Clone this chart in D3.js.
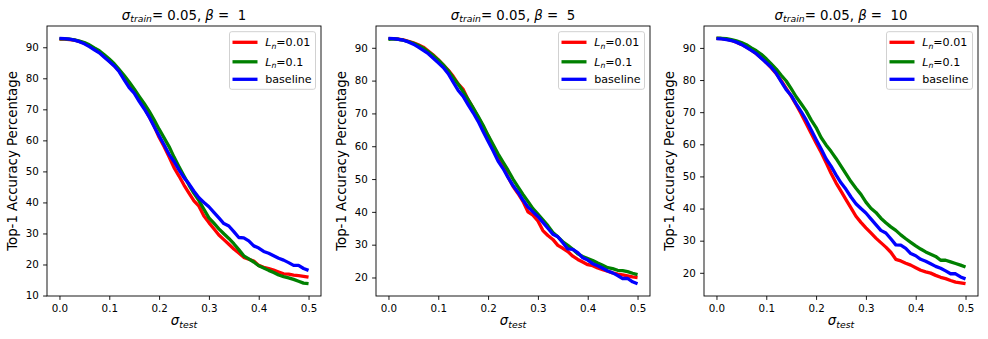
<!DOCTYPE html>
<html><head><meta charset="utf-8">
<script src="https://cdn.jsdelivr.net/npm/d3@7"></script>
<style>
body{margin:0;background:#fff;}
svg{display:block;font-family:"DejaVu Sans",sans-serif;}
text{white-space:pre;}
</style></head><body>
<svg id="c" width="988" height="339"></svg>
<script>
// ---------- data ----------
const sigmaTest = [0.00,0.01,0.02,0.03,0.04,0.05,0.06,0.07,0.08,0.09,
  0.10,0.11,0.12,0.13,0.14,0.15,0.16,0.17,0.18,0.19,
  0.20,0.21,0.22,0.23,0.24,0.25,0.26,0.27,0.28,0.29,
  0.30,0.31,0.32,0.33,0.34,0.35,0.36,0.37,0.38,0.39,
  0.40,0.41,0.42,0.43,0.44,0.45,0.46,0.47,0.48,0.49,0.50];

const betas = [1, 5, 10];
const sigmaTrain = "0.05";
const seriesNames = ["L_n=0.01", "L_n=0.1", "baseline"];
const seriesColors = ["#ff0000", "#008000", "#0000ff"];

const baseline = [92.9,92.8,92.6,92.3,91.8,91.1,90.2,89.2,88.2,86.8,
  85.4,84.0,82.1,79.5,77.0,75.2,72.6,70.2,67.6,64.5,
  61.5,58.6,55.5,53.2,50.5,48.0,46.0,43.6,41.5,40.0,
  38.6,36.8,35.0,33.2,32.4,30.6,28.7,28.6,27.6,26.0,
  25.3,24.2,23.6,22.8,22.0,21.4,20.6,19.7,19.7,18.7,18.1];

// beta = 1
const ln001Beta1 = [92.6,92.6,92.5,92.3,91.9,91.3,90.6,89.5,88.4,87.1,
  85.6,84.1,82.4,80.3,78.0,75.8,73.3,70.6,67.6,64.6,
  61.0,58.0,54.7,51.2,48.5,45.6,43.0,40.5,38.8,35.6,
  33.5,31.5,29.5,28.0,26.5,25.0,23.7,22.3,21.7,21.1,
  19.7,19.1,18.7,18.2,17.6,17.0,16.9,16.6,16.4,16.2,15.9];
const ln01Beta1 = [92.7,92.7,92.6,92.4,92.0,91.5,90.8,89.8,88.9,87.6,
  86.2,84.7,82.8,80.9,78.8,76.6,74.2,71.9,69.4,66.6,
  63.6,60.8,58.0,54.6,51.5,48.5,45.6,42.9,40.6,37.8,
  35.0,33.3,31.5,29.9,28.4,26.7,24.8,22.8,21.8,20.8,
  19.6,18.9,18.1,17.4,16.6,16.1,15.7,15.2,14.6,14.0,13.8];

// beta = 5
const ln001Beta5 = [92.8,92.8,92.6,92.4,92.0,91.5,90.9,90.2,89.0,87.8,
  86.4,84.8,83.2,81.3,79.0,77.3,74.2,71.6,68.8,66.0,
  63.2,59.6,57.0,54.2,50.6,47.8,45.6,43.2,40.0,39.0,
  37.2,34.3,32.8,31.6,29.8,28.9,27.9,26.5,25.5,24.7,
  23.9,23.6,22.9,22.4,21.9,21.4,21.0,20.8,20.5,20.2,20.0];
const ln01Beta5 = [92.6,92.7,92.6,92.3,91.9,91.4,90.7,89.9,88.8,87.6,
  86.3,84.8,83.0,80.9,78.9,76.6,74.2,71.7,69.1,66.4,
  63.3,60.5,57.7,55.2,52.7,50.0,47.6,45.3,43.2,41.0,
  39.3,37.6,35.8,33.7,32.4,30.9,29.8,28.6,27.2,26.4,
  25.8,25.2,24.4,23.7,23.0,22.7,22.2,22.1,21.8,21.3,20.9];

// beta = 10
const ln001Beta10 = [93.0,92.9,92.7,92.3,91.8,91.1,90.3,89.3,88.2,86.9,
  85.4,83.8,82.0,79.8,77.4,75.0,72.3,69.5,66.5,63.4,
  60.4,57.5,54.3,51.0,48.0,45.4,42.8,40.2,37.6,35.7,
  34.0,32.4,30.8,29.4,28.0,26.4,24.2,23.7,23.0,22.4,
  21.6,20.8,20.3,19.9,19.2,18.6,18.2,17.6,17.1,16.9,16.6];
const ln01Beta10 = [93.0,93.0,92.9,92.6,92.2,91.7,91.0,90.0,89.1,88.0,
  86.6,85.0,83.4,81.5,79.7,77.3,74.8,72.6,70.4,67.6,
  65.2,62.1,59.8,57.8,55.6,53.2,50.8,48.4,46.3,44.4,
  42.0,40.1,38.8,37.0,35.6,34.3,33.2,31.8,30.6,29.5,
  28.4,27.4,26.5,25.8,25.1,23.9,23.9,23.4,22.9,22.4,21.8];

const xTicks = [0.0,0.1,0.2,0.3,0.4,0.5];
const yTicksBeta1 = [10,20,30,40,50,60,70,80,90];
const yTicksOther = [20,30,40,50,60,70,80,90];
const yLabel = "Top-1 Accuracy Percentage";

// ---------- layout ----------
const panels = [
  {beta: betas[0], series: [ln001Beta1, ln01Beta1, baseline], yTicks: yTicksBeta1},
  {beta: betas[1], series: [ln001Beta5, ln01Beta5, baseline], yTicks: yTicksOther},
  {beta: betas[2], series: [ln001Beta10, ln01Beta10, baseline], yTicks: yTicksOther}
];
const lefts = [47, 376, 704];
const axW = 274, axTop = 26, axH = 270;
const svg = d3.select("#c");

function richLabel(sel, name) {
  if (name.startsWith("L_n")) {
    sel.append("tspan").attr("font-style", "italic").text("L");
    sel.append("tspan").attr("font-style", "italic").attr("font-size", "0.7em").attr("dy", 2.5).text("n");
    sel.append("tspan").attr("dy", -2.5).text(name.slice(3));
  } else {
    sel.text(name);
  }
}

panels.forEach((p, i) => {
  const x0 = lefts[i];
  const all = p.series.flat();
  const mn = d3.min(all), mx = d3.max(all), pad = (mx - mn) * 0.05;
  const x = d3.scaleLinear().domain([-0.025, 0.525]).range([x0, x0 + axW]);
  const y = d3.scaleLinear().domain([mn - pad, mx + pad]).range([axTop + axH, axTop]);
  const g = svg.append("g");

  const line = d3.line().x((d, j) => x(sigmaTest[j])).y(d => y(d));
  p.series.forEach((s, k) => {
    g.append("path").attr("d", line(s)).attr("fill", "none")
      .attr("stroke", seriesColors[k]).attr("stroke-width", 3.3)
      .attr("stroke-linejoin", "round");
  });

  // axes
  const xa = g.append("g").attr("transform", `translate(0,${axTop + axH})`)
    .call(d3.axisBottom(x).tickValues(xTicks).tickFormat(d3.format(".1f")).tickSize(3.9).tickPadding(5.1));
  const ya = g.append("g").attr("transform", `translate(${x0},0)`)
    .call(d3.axisLeft(y).tickValues(p.yTicks).tickFormat(d3.format("d")).tickSize(3.9).tickPadding(4.3));
  [xa, ya].forEach(a => {
    a.select(".domain").remove();
    a.selectAll("line").attr("stroke", "#000").attr("stroke-width", 0.9);
    a.selectAll("text").attr("fill", "#000").attr("font-size", 10.3).attr("font-family", "DejaVu Sans");
  });

  // frame
  g.append("rect").attr("x", x0).attr("y", axTop).attr("width", axW).attr("height", axH)
    .attr("fill", "none").attr("stroke", "#000").attr("stroke-width", 0.9);

  // title
  const t = g.append("text").attr("x", x0 + axW / 2).attr("y", 19.5)
    .attr("text-anchor", "middle").attr("font-size", 13.3).attr("fill", "#000");
  t.append("tspan").attr("font-style", "italic").text("σ");
  t.append("tspan").attr("font-style", "italic").attr("font-size", 9.3).attr("dy", 2.5).text("train");
  t.append("tspan").attr("dy", -2.5).text("= " + sigmaTrain + ", ");
  t.append("tspan").attr("font-style", "italic").text("β");
  t.append("tspan").text(" =  " + p.beta);

  // x label
  const xl = g.append("text").attr("x", x0 + axW / 2).attr("y", 325)
    .attr("text-anchor", "middle").attr("font-size", 13.3).attr("fill", "#000");
  xl.append("tspan").attr("font-style", "italic").text("σ");
  xl.append("tspan").attr("font-style", "italic").attr("font-size", 9.3).attr("dy", 2.5).text("test");

  // y label
  g.append("text").attr("transform", `translate(${x0 - 30},${axTop + axH / 2}) rotate(-90)`)
    .attr("text-anchor", "middle").attr("font-size", 13.3).attr("fill", "#000").text(yLabel);

  // legend
  const bw = 86, bh = 57.6;
  const bx = x0 + axW - 5.5 - bw, by = axTop + 5.7;
  const lg = g.append("g").attr("transform", `translate(${bx},${by})`);
  lg.append("rect").attr("width", bw).attr("height", bh).attr("rx", 2.2)
    .attr("fill", "#fff").attr("fill-opacity", 0.8).attr("stroke", "#cccccc").attr("stroke-width", 0.9);
  const rowY = [10.6, 30.1, 47.6];
  seriesNames.forEach((n, k) => {
    lg.append("line").attr("x1", 3).attr("x2", 28).attr("y1", rowY[k]).attr("y2", rowY[k])
      .attr("stroke", seriesColors[k]).attr("stroke-width", 3.3);
    const tx = lg.append("text").attr("x", 35.7).attr("y", rowY[k] + 4)
      .attr("font-size", 11.1).attr("fill", "#000");
    richLabel(tx, n);
  });
});
</script>
</body></html>
